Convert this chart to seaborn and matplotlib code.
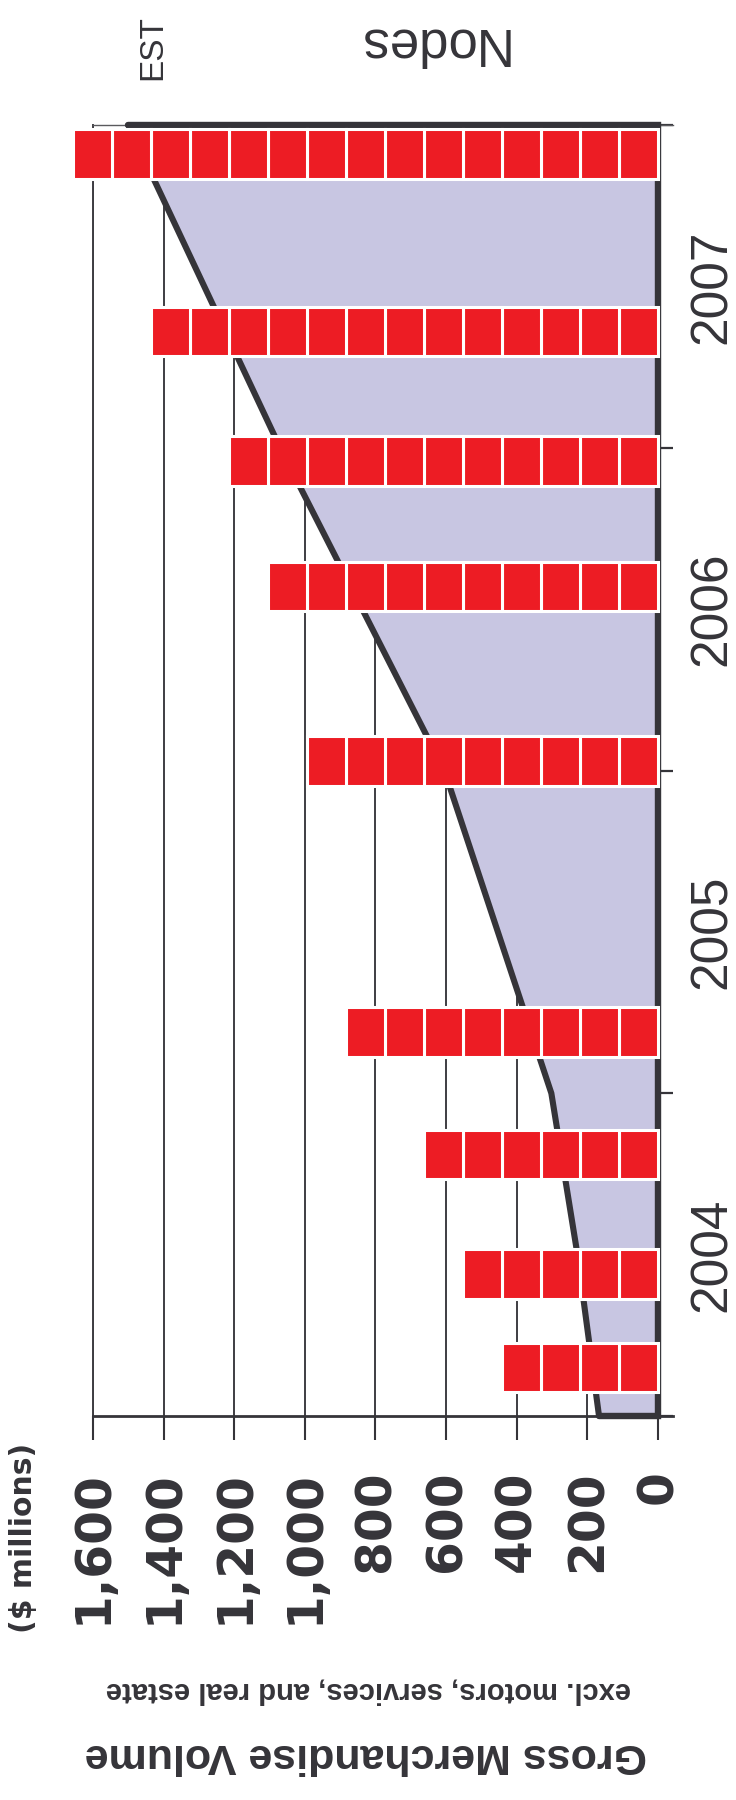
import numpy as np
import pandas as pd
import matplotlib
matplotlib.use("Agg")
import matplotlib.pyplot as plt
import matplotlib.transforms as mtransforms
from matplotlib.ticker import FuncFormatter
import seaborn as sns

# Gross merchandise volume ($ millions) by fractional year
gmv_time = [2004.0, 2004.5, 2005.0, 2006.0, 2007.0, 2008.0]
gmv_value = [167, 228, 302, 605, 1070, 1500]

# Node counts (one red block per node) by fractional year
node_time = [2004.15, 2004.44, 2004.81, 2005.19, 2006.03, 2006.57, 2006.96, 2007.36, 2007.91]
node_count = [4, 5, 6, 8, 9, 10, 11, 13, 15]

years = [2004, 2005, 2006, 2007]
value_ticks = [0, 200, 400, 600, 800, 1000, 1200, 1400, 1600]

# Styling
INK = "#353439"
GRID = "#3e3d42"
RED = "#ED1C24"
LAVENDER = "#C8C6E2"
NODE_UNIT = 110.4      # value-axis width of one node block
BLOCK_H = 0.154        # block height in years

W, H, DPI = 736, 1800, 100

sns.set_theme(style="white")
plt.rcParams["font.family"] = ["Liberation Sans", "DejaVu Sans"]

fig = plt.figure(figsize=(W / DPI, H / DPI), dpi=DPI)
fig.patch.set_facecolor("white")
ax = fig.add_axes([93 / W, (H - 1416) / H, (673 - 93) / W, (1416 - 125) / H])
ax.set_facecolor("white")

# Shaded GMV area
ax.fill_betweenx(gmv_time, 0, gmv_value, color=LAVENDER, lw=0, zorder=1)

# GMV line
df = pd.DataFrame({"year": gmv_time, "gmv": gmv_value})
sns.lineplot(data=df, x="gmv", y="year", sort=False, orient="y", color=INK,
             lw=4.4, ax=ax, zorder=3, solid_joinstyle="miter")

# Closing outline: top edge, zero baseline, bottom edge
ax.plot([gmv_value[-1], 0, 0, gmv_value[0]],
        [gmv_time[-1], gmv_time[-1], gmv_time[0], gmv_time[0]],
        color=INK, lw=4.6, solid_capstyle="round", solid_joinstyle="miter",
        zorder=3, clip_on=False)

# Node blocks
for t, n in zip(node_time, node_count):
    ax.barh([t] * n, [NODE_UNIT] * n, left=np.arange(n) * NODE_UNIT,
            height=BLOCK_H, color=RED, edgecolor="white", linewidth=2.2,
            zorder=4, clip_on=False)

ax.set_xlim(1600, -42.5)
ax.set_ylim(years[0], years[-1] + 1)
ax.set_xlabel("")
ax.set_ylabel("")

# Grid and spines
ax.set_axisbelow(True)
ax.xaxis.grid(True, color=GRID, lw=1.4)
ax.yaxis.grid(False)
ax.spines["right"].set_visible(False)
ax.spines["left"].set_color(GRID)
ax.spines["left"].set_linewidth(1.4)
ax.spines["top"].set_color("#5a5a5e")
ax.spines["top"].set_linewidth(1.0)
ax.spines["bottom"].set_color(INK)
ax.spines["bottom"].set_linewidth(2.0)

# Value axis ticks
ax.set_xticks(value_ticks)
ax.xaxis.set_major_formatter(FuncFormatter(lambda v, p: f"{v:,.0f}"))
ax.tick_params(axis="x", direction="out", length=17, width=1.5, color=INK,
               pad=22, labelsize=35, labelrotation=90, labelcolor=INK, bottom=True)
for lbl in ax.get_xticklabels():
    lbl.set_fontweight("bold")
    lbl.set_fontfamily("DejaVu Sans")

# Year boundary ticks on the right
ax.yaxis.tick_right()
ax.set_yticks(years + [years[-1] + 1])
ax.set_yticklabels([])
ax.tick_params(axis="y", direction="in", length=10, width=1.6, color=INK, right=True)

# Year labels centred within each year
trans = mtransforms.blended_transform_factory(fig.transFigure, ax.transData)
for yr in years:
    ax.text(712 / W, yr + 0.5, str(yr), transform=trans, rotation=90,
            ha="center", va="center", fontsize=37, color=INK)

# Titles and annotations
fig.text(23.5 / W, 1 - 1538 / H, "($ millions)", rotation=90, ha="center",
         va="center", fontsize=21.5, fontweight="bold", color=INK,
         family=["DejaVu Sans"])
fig.text(368 / W, 1 - 1690 / H, "excl. motors, services, and real estate",
         rotation=180, ha="center", va="center", fontsize=21,
         fontweight="bold", color=INK)
fig.text(366 / W, 1 - 1755 / H, "Gross Merchandise Volume", rotation=180,
         ha="center", va="center", fontsize=31, fontweight="bold", color=INK)
fig.text(153 / W, 1 - 47.5 / H, "EST", rotation=90, ha="center", va="center",
         fontsize=24, color=INK)
fig.text(430 / W, 1 - 42 / H, "Nodes", rotation=180, ha="center", va="center",
         fontsize=38, color=INK)

fig.savefig("out.png", dpi=DPI)
